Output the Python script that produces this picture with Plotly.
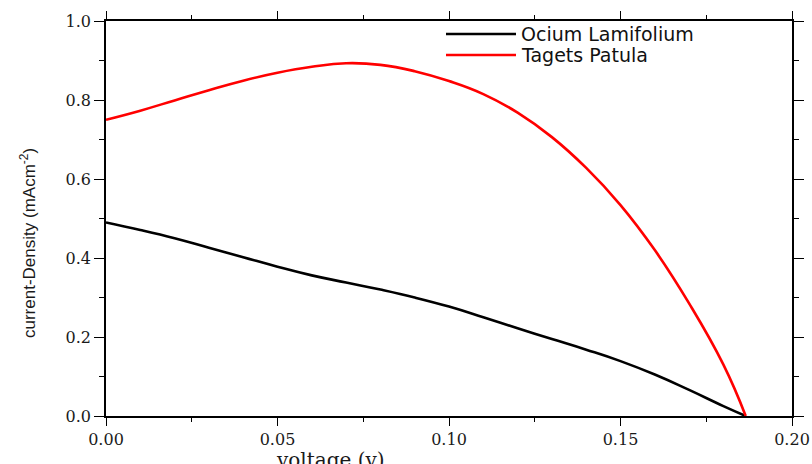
import plotly.graph_objects as go

# J-V characteristics of two natural-dye sensitized cells
series_names = ["Ocium Lamifolium", "Tagets Patula"]
series_colors = ["#000000", "#ff0000"]

voltage_ocium = [0.000, 0.010, 0.020, 0.030, 0.040, 0.050, 0.060, 0.070, 0.080, 0.090,
                 0.100, 0.110, 0.120, 0.130, 0.140, 0.150, 0.160, 0.170, 0.180, 0.1865]
current_ocium = [0.490, 0.471, 0.450, 0.426, 0.402, 0.378, 0.356, 0.338, 0.320, 0.300,
                 0.277, 0.250, 0.222, 0.195, 0.168, 0.139, 0.105, 0.066, 0.025, 0.0]

voltage_tagets = [0.000, 0.010, 0.020, 0.030, 0.040, 0.050, 0.060, 0.070, 0.080, 0.090,
                  0.100, 0.110, 0.120, 0.130, 0.140, 0.150, 0.160, 0.170, 0.180, 0.1865]
current_tagets = [0.750, 0.773, 0.799, 0.825, 0.849, 0.869, 0.884, 0.893, 0.889, 0.873,
                  0.848, 0.815, 0.768, 0.706, 0.628, 0.534, 0.420, 0.285, 0.130, 0.0]

x_title = "voltage (v)"
y_title = "current-Density (mAcm<sup>-2</sup>)"

W, H = 812, 464
L, R, T, B = 106, 20, 21, 48
PW, PH = W - L - R, H - T - B


def px_to_paper_x(px):
    return (px - L) / PW


def px_to_paper_y(py):
    return (H - B - py) / PH


fig = go.Figure()
for name, color, vx, jy in [
    (series_names[0], series_colors[0], voltage_ocium, current_ocium),
    (series_names[1], series_colors[1], voltage_tagets, current_tagets),
]:
    fig.add_trace(go.Scatter(
        x=vx, y=jy, mode="lines", name=name,
        line=dict(color=color, width=2.6, shape="spline", smoothing=1.3),
        showlegend=False,
    ))

tick_font = dict(family="DejaVu Serif", size=16, color="#1a1a1a")
axis_common = dict(
    showline=True, linecolor="black", linewidth=1.6, mirror="ticks",
    ticks="outside", tickcolor="black", tickwidth=1.4, automargin=False,
    showgrid=False, zeroline=False, tickfont=tick_font,
)

fig.update_xaxes(range=[0, 0.2], dtick=0.05, tickformat=".2f", ticklen=8,
                 minor=dict(dtick=0.025, ticks="outside", ticklen=4,
                            tickcolor="black", tickwidth=1.4),
                 **axis_common)
fig.update_yaxes(range=[0, 1.0], dtick=0.2, tickformat=".1f", ticklen=10,
                 minor=dict(dtick=0.1, ticks="outside", ticklen=5,
                            tickcolor="black", tickwidth=1.4),
                 **axis_common)

annotations = [
    dict(text=x_title, x=px_to_paper_x(330), y=px_to_paper_y(446),
         xref="paper", yref="paper", xanchor="center", yanchor="top",
         showarrow=False, font=dict(family="DejaVu Serif", size=20, color="#1a1a1a")),
    dict(text=y_title, x=px_to_paper_x(28), y=px_to_paper_y(243),
         xref="paper", yref="paper", xanchor="center", yanchor="middle",
         textangle=-90, showarrow=False,
         font=dict(family="Liberation Sans", size=17, color="#1a1a1a")),
]

# legend drawn as line samples with labels
shapes = []
legend_rows_px = [34, 55]
for name, color, ry in zip(series_names, series_colors, legend_rows_px):
    shapes.append(dict(type="line", xref="paper", yref="paper",
                       x0=px_to_paper_x(446), x1=px_to_paper_x(516),
                       y0=px_to_paper_y(ry), y1=px_to_paper_y(ry),
                       line=dict(color=color, width=2.6)))
    annotations.append(dict(text=name, x=px_to_paper_x(519), y=px_to_paper_y(ry),
                            xref="paper", yref="paper", xanchor="left",
                            yanchor="middle", showarrow=False,
                            font=dict(family="DejaVu Sans", size=19, color="#111111")))

fig.update_layout(
    width=W, height=H,
    margin=dict(l=L, r=R, t=T, b=B),
    paper_bgcolor="white", plot_bgcolor="white",
    annotations=annotations, shapes=shapes,
)

fig.write_html("out.html")
